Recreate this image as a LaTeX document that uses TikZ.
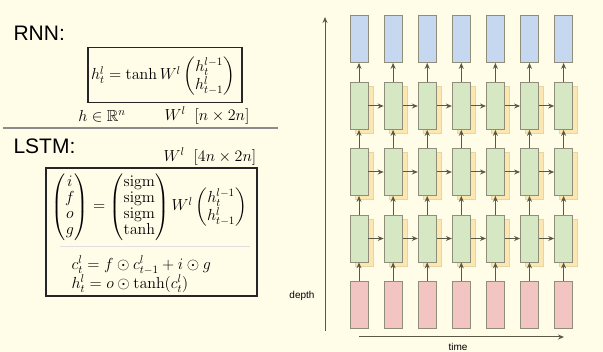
\documentclass[tikz,border=0pt]{standalone}
\usepackage{fix-cm}
\usepackage{amsmath,amssymb}
\usepackage[no-math]{fontspec}
\newfontfamily\labelfont{Liberation Sans}
\usepackage{xcolor}
\usetikzlibrary{calc,positioning,arrows.meta}

\definecolor{bgcream}{HTML}{FFFDE8}
\definecolor{cellblue}{HTML}{C5D8F0}
\definecolor{cellgreen}{HTML}{D5E7C3}
\definecolor{cellshadow}{HTML}{FCE7B0}
\definecolor{cellred}{HTML}{F3C5C2}
\definecolor{celledge}{HTML}{8E8E7A}
\definecolor{arrowgray}{HTML}{5A5A44}

\tikzset{
  cell/.style={draw=celledge, line width=0.8pt, minimum width=18pt, minimum height=47pt, inner sep=0pt},
  flow/.style={draw=arrowgray, line width=1pt, -{Stealth[length=6pt,width=5pt]}},
  eqbox/.style={draw=black!85, line width=1.2pt, inner sep=0pt},
  title/.style={font=\labelfont\fontsize{21}{24}\selectfont, anchor=west},
  eqfont/.style={font=\fontsize{16}{16}\selectfont, inner sep=0.5pt},
}

\begin{document}
\begin{tikzpicture}[x=1pt, y=-1pt]
  \useasboundingbox[fill=bgcream] (0,0) rectangle (603,352);
  % --- RNN ---
  \node[title] (rnn) at (10,33) {RNN:};
  \node[eqbox, minimum width=154pt, minimum height=55pt] (rnnbox) at (165,75) {};
  \node[eqfont] (rnneq) at (163,76)
    {$h^l_t = \tanh W^l \begin{pmatrix} h^{l-1}_t \\ h^l_{t-1} \end{pmatrix}$};
  \node[eqfont] (hdim) at (102,116) {$h \in \mathbb{R}^n$};
  \node[eqfont] (wrnn) at (207,116) {$W^l \;\; [n \times 2n]$};
  \draw[black!45, line width=1.3pt] (3,128) coordinate (sepl) -- (278,128) coordinate (sepr);
  % --- LSTM ---
  \node[title] (lstm) at (10,146) {LSTM:};
  \node[eqfont] (wlstm) at (210,157) {$W^l \;\; [4n \times 2n]$};
  \node[eqbox, minimum width=211pt, minimum height=128pt] (lstmbox) at (151.5,232) {};
  \node[eqfont] (gates) at (149,207)
    {$\begin{pmatrix} i \\ f \\ o \\ g \end{pmatrix} =
      \begin{pmatrix} \mathrm{sigm} \\ \mathrm{sigm} \\ \mathrm{sigm} \\ \tanh \end{pmatrix}
      W^l \begin{pmatrix} h^{l-1}_t \\ h^l_{t-1} \end{pmatrix}$};
  \draw[black!12, line width=0.8pt] (60,246) coordinate (gl) -- (250,246) coordinate (gr);
  \node[eqfont, anchor=west] (ceq) at (71,265) {$c^l_t = f \odot c^l_{t-1} + i \odot g$};
  \node[eqfont, anchor=west] (heq) at (71,284) {$h^l_t = o \odot \tanh(c^l_t)$};
  % --- unrolled network ---
  \foreach \i in {1,...,7} {
    \pgfmathsetmacro{\cx}{359+34.1*(\i-1)}
    \node[cell, fill=cellblue] (b-\i) at (\cx,39) {};
    \foreach \j/\cy in {1/106, 2/172, 3/238.5} {
      \node[cell, draw=cellshadow!80!celledge, fill=cellshadow] (s-\j-\i) at (\cx+5,\cy+4) {};
      \node[cell, fill=cellgreen] (g-\j-\i) at (\cx,\cy) {};
    }
    \node[cell, fill=cellred] (r-\i) at (\cx,304.5) {};
  }
  \foreach \i in {1,...,7} {
    \draw[flow] (r-\i) -- (g-3-\i);
    \draw[flow] (g-3-\i) -- (g-2-\i);
    \draw[flow] (g-2-\i) -- (g-1-\i);
    \draw[flow] (g-1-\i) -- (b-\i);
  }
  \foreach \j in {1,2,3} {
    \foreach \i [evaluate=\i as \n using int(\i+1)] in {1,...,6} {
      \draw[flow] (g-\j-\i.east) -- (g-\j-\n.west);
    }
  }
  % --- axes ---
  \coordinate (d0) at (325,331);
  \coordinate (d1) at (325,17);
  \coordinate (t0) at (359,337);
  \coordinate (t1) at (564,337);
  \draw[flow] (d0) -- (d1);
  \draw[flow] (t0) -- (t1);
  \node[font=\labelfont\fontsize{10}{12}\selectfont] (depth) at (302,296) {depth};
  \node[font=\labelfont\fontsize{10}{12}\selectfont] (time) at (458,347) {time};
\end{tikzpicture}
\end{document}
